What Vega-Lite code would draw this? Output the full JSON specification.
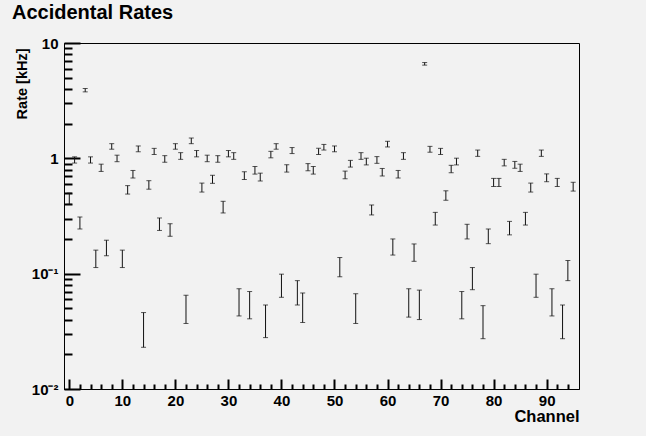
{
  "$schema": "https://vega.github.io/schema/vega-lite/v6.json",
  "autosize": {"type": "none"},
  "width": 515,
  "height": 346,
  "padding": {"left": 64, "top": 43, "right": 67, "bottom": 47},
  "background": "#f2f2f2",
  "title": {
    "text": "Accidental Rates",
    "anchor": "start",
    "frame": "group",
    "dx": -52,
    "offset": 13,
    "font": "Liberation Sans",
    "fontSize": 20,
    "fontWeight": "bold",
    "color": "#000"
  },
  "config": {
    "view": {"stroke": "#000", "strokeWidth": 1, "fill": "#f2f2f2"}
  },
  "data": {
    "values": [
      {"ch": 0, "v": 0.45, "lo": 0.40, "hi": 0.50},
      {"ch": 1, "v": 0.97, "lo": 0.91, "hi": 1.03},
      {"ch": 2, "v": 0.277, "lo": 0.244, "hi": 0.31},
      {"ch": 3, "v": 3.9, "lo": 3.77, "hi": 4.03},
      {"ch": 4, "v": 0.97, "lo": 0.91, "hi": 1.03},
      {"ch": 5, "v": 0.136, "lo": 0.113, "hi": 0.16},
      {"ch": 6, "v": 0.83, "lo": 0.77, "hi": 0.89},
      {"ch": 7, "v": 0.169, "lo": 0.143, "hi": 0.195},
      {"ch": 8, "v": 1.27, "lo": 1.20, "hi": 1.34},
      {"ch": 9, "v": 1.0, "lo": 0.935, "hi": 1.065},
      {"ch": 10, "v": 0.136, "lo": 0.113, "hi": 0.16},
      {"ch": 11, "v": 0.535, "lo": 0.49, "hi": 0.58},
      {"ch": 12, "v": 0.73, "lo": 0.675, "hi": 0.785},
      {"ch": 13, "v": 1.21, "lo": 1.14, "hi": 1.28},
      {"ch": 14, "v": 0.0345, "lo": 0.023, "hi": 0.046},
      {"ch": 15, "v": 0.59, "lo": 0.54, "hi": 0.64},
      {"ch": 16, "v": 1.15, "lo": 1.08, "hi": 1.22},
      {"ch": 17, "v": 0.27, "lo": 0.237, "hi": 0.304},
      {"ch": 18, "v": 0.99, "lo": 0.925, "hi": 1.055},
      {"ch": 19, "v": 0.241, "lo": 0.211, "hi": 0.271},
      {"ch": 20, "v": 1.27, "lo": 1.20, "hi": 1.34},
      {"ch": 21, "v": 1.05, "lo": 0.98, "hi": 1.12},
      {"ch": 22, "v": 0.051, "lo": 0.037, "hi": 0.065},
      {"ch": 23, "v": 1.42, "lo": 1.34, "hi": 1.50},
      {"ch": 24, "v": 1.1, "lo": 1.03, "hi": 1.17},
      {"ch": 25, "v": 0.56, "lo": 0.51, "hi": 0.61},
      {"ch": 26, "v": 1.0, "lo": 0.935, "hi": 1.065},
      {"ch": 27, "v": 0.66, "lo": 0.607, "hi": 0.713},
      {"ch": 28, "v": 0.99, "lo": 0.925, "hi": 1.055},
      {"ch": 29, "v": 0.38, "lo": 0.336, "hi": 0.424},
      {"ch": 30, "v": 1.1, "lo": 1.03, "hi": 1.17},
      {"ch": 31, "v": 1.05, "lo": 0.98, "hi": 1.12},
      {"ch": 32, "v": 0.058, "lo": 0.043, "hi": 0.074},
      {"ch": 33, "v": 0.71, "lo": 0.655, "hi": 0.765},
      {"ch": 34, "v": 0.055, "lo": 0.0406, "hi": 0.07},
      {"ch": 35, "v": 0.79, "lo": 0.73, "hi": 0.85},
      {"ch": 36, "v": 0.69, "lo": 0.636, "hi": 0.744},
      {"ch": 37, "v": 0.041, "lo": 0.0279, "hi": 0.0535},
      {"ch": 38, "v": 1.08, "lo": 1.01, "hi": 1.15},
      {"ch": 39, "v": 1.27, "lo": 1.20, "hi": 1.34},
      {"ch": 40, "v": 0.081, "lo": 0.0624, "hi": 0.099},
      {"ch": 41, "v": 0.82, "lo": 0.76, "hi": 0.88},
      {"ch": 42, "v": 1.17, "lo": 1.10, "hi": 1.24},
      {"ch": 43, "v": 0.070, "lo": 0.0535, "hi": 0.087},
      {"ch": 44, "v": 0.053, "lo": 0.0377, "hi": 0.068},
      {"ch": 45, "v": 0.84, "lo": 0.78, "hi": 0.90},
      {"ch": 46, "v": 0.79, "lo": 0.73, "hi": 0.85},
      {"ch": 47, "v": 1.15, "lo": 1.08, "hi": 1.22},
      {"ch": 48, "v": 1.25, "lo": 1.18, "hi": 1.32},
      {"ch": 50, "v": 1.21, "lo": 1.14, "hi": 1.28},
      {"ch": 51, "v": 0.116, "lo": 0.094, "hi": 0.138},
      {"ch": 52, "v": 0.72, "lo": 0.665, "hi": 0.775},
      {"ch": 53, "v": 0.9, "lo": 0.84, "hi": 0.96},
      {"ch": 54, "v": 0.052, "lo": 0.037, "hi": 0.067},
      {"ch": 55, "v": 1.05, "lo": 0.98, "hi": 1.12},
      {"ch": 56, "v": 0.94, "lo": 0.877, "hi": 1.003},
      {"ch": 57, "v": 0.358, "lo": 0.323, "hi": 0.394},
      {"ch": 58, "v": 0.97, "lo": 0.905, "hi": 1.035},
      {"ch": 59, "v": 0.76, "lo": 0.703, "hi": 0.817},
      {"ch": 60, "v": 1.33, "lo": 1.255, "hi": 1.405},
      {"ch": 61, "v": 0.172, "lo": 0.145, "hi": 0.2},
      {"ch": 62, "v": 0.73, "lo": 0.675, "hi": 0.785},
      {"ch": 63, "v": 1.05, "lo": 0.98, "hi": 1.12},
      {"ch": 64, "v": 0.058, "lo": 0.042, "hi": 0.074},
      {"ch": 65, "v": 0.155, "lo": 0.128, "hi": 0.181},
      {"ch": 66, "v": 0.056, "lo": 0.040, "hi": 0.072},
      {"ch": 67, "v": 6.6, "lo": 6.43, "hi": 6.77},
      {"ch": 68, "v": 1.2, "lo": 1.13, "hi": 1.27},
      {"ch": 69, "v": 0.302, "lo": 0.264, "hi": 0.34},
      {"ch": 70, "v": 1.15, "lo": 1.08, "hi": 1.22},
      {"ch": 71, "v": 0.478, "lo": 0.433, "hi": 0.523},
      {"ch": 72, "v": 0.81, "lo": 0.75, "hi": 0.87},
      {"ch": 73, "v": 0.94, "lo": 0.877, "hi": 1.003},
      {"ch": 74, "v": 0.055, "lo": 0.0406, "hi": 0.07},
      {"ch": 75, "v": 0.234, "lo": 0.2, "hi": 0.268},
      {"ch": 76, "v": 0.093, "lo": 0.0726, "hi": 0.113},
      {"ch": 77, "v": 1.11, "lo": 1.04, "hi": 1.18},
      {"ch": 78, "v": 0.040, "lo": 0.0273, "hi": 0.0528},
      {"ch": 79, "v": 0.213, "lo": 0.182, "hi": 0.244},
      {"ch": 80, "v": 0.62, "lo": 0.57, "hi": 0.67},
      {"ch": 81, "v": 0.62, "lo": 0.57, "hi": 0.67},
      {"ch": 82, "v": 0.92, "lo": 0.86, "hi": 0.98},
      {"ch": 83, "v": 0.25, "lo": 0.217, "hi": 0.284},
      {"ch": 84, "v": 0.88, "lo": 0.82, "hi": 0.94},
      {"ch": 85, "v": 0.83, "lo": 0.77, "hi": 0.89},
      {"ch": 86, "v": 0.302, "lo": 0.264, "hi": 0.34},
      {"ch": 87, "v": 0.56, "lo": 0.51, "hi": 0.61},
      {"ch": 88, "v": 0.081, "lo": 0.0624, "hi": 0.099},
      {"ch": 89, "v": 1.11, "lo": 1.04, "hi": 1.18},
      {"ch": 90, "v": 0.68, "lo": 0.627, "hi": 0.733},
      {"ch": 91, "v": 0.058, "lo": 0.043, "hi": 0.074},
      {"ch": 92, "v": 0.62, "lo": 0.57, "hi": 0.67},
      {"ch": 93, "v": 0.040, "lo": 0.0273, "hi": 0.0535},
      {"ch": 94, "v": 0.108, "lo": 0.087, "hi": 0.13},
      {"ch": 95, "v": 0.57, "lo": 0.52, "hi": 0.62}
    ]
  },
  "resolve": {"axis": {"x": "independent", "y": "independent"}},
  "layer": [
    {
      "mark": {"type": "rule", "color": "#111", "strokeWidth": 1},
      "encoding": {
        "x": {"field": "ch", "type": "quantitative",
          "scale": {"domain": [-1, 96.1], "nice": false, "zero": false},
          "axis": {"orient": "bottom", "values": [0, 10, 20, 30, 40, 50, 60, 70, 80, 90], "gridOpacity": 0, "ticks": true, "tickColor": "black", "tickWidth": 2, "tickSize": -10, "domainColor": "#000", "labelPadding": 14, "labelFont": "Liberation Sans", "labelColor": "#000", "labelFontSize": 15, "labelFontWeight": "bold",
            "title": "Channel", "titleFont": "Liberation Sans", "titleColor": "#000", "titleFontSize": 16.5, "titleFontWeight": "bold", "titleX": 515, "titleY": 27, "titleAlign": "right", "titleBaseline": "middle"}},
        "y": {"field": "lo", "type": "quantitative",
          "scale": {"type": "log", "domain": [0.01, 10], "nice": false},
          "axis": {"orient": "left", "values": [0.01, 0.1, 1, 10], "gridOpacity": 0, "ticks": true, "tickColor": "black", "tickWidth": 2, "tickSize": -16, "domainColor": "#000", "labelPadding": 22, "labelFont": "Liberation Sans", "labelColor": "#000", "labelFontSize": 15, "labelFontWeight": "bold",
            "labelExpr": "datum.value > 5 ? '10' : datum.value > 0.5 ? '1' : datum.value > 0.05 ? '10⁻¹' : '10⁻²'",
            "title": "Rate [kHz]", "titleFont": "Liberation Sans", "titleColor": "#000", "titleFontSize": 14.5, "titleFontWeight": "bold", "titleX": -42, "titleY": 5, "titleAngle": -90, "titleAlign": "right", "titleBaseline": "middle"}},
        "y2": {"field": "hi"}
      }
    },
    {
      "mark": {"type": "tick", "orient": "horizontal", "color": "#111", "size": 5, "thickness": 1},
      "encoding": {
        "x": {"field": "ch", "type": "quantitative",
          "axis": {"orient": "bottom", "offset": -5, "values": [2, 4, 6, 8, 12, 14, 16, 18, 22, 24, 26, 28, 32, 34, 36, 38, 42, 44, 46, 48, 52, 54, 56, 58, 62, 64, 66, 68, 72, 74, 76, 78, 82, 84, 86, 88, 92, 94], "gridOpacity": 0, "ticks": true, "tickColor": "black", "tickWidth": 2, "tickSize": 5, "labelColor": "transparent", "labelFontSize": 2, "domain": false, "title": null}},
        "y": {"field": "lo", "type": "quantitative",
          "axis": {"orient": "left", "offset": -8, "values": [0.02, 0.03, 0.04, 0.05, 0.06, 0.07, 0.08, 0.09, 0.2, 0.3, 0.4, 0.5, 0.6, 0.7, 0.8, 0.9, 2, 3, 4, 5, 6, 7, 8, 9], "gridOpacity": 0, "ticks": true, "tickColor": "black", "tickWidth": 2, "tickSize": 8, "labelColor": "transparent", "labelFontSize": 2, "domain": false, "title": null}}
      }
    },
    {
      "mark": {"type": "tick", "orient": "horizontal", "color": "#111", "size": 5, "thickness": 1},
      "encoding": {
        "x": {"field": "ch", "type": "quantitative", "axis": null},
        "y": {"field": "hi", "type": "quantitative", "axis": null}
      }
    }
  ]
}
